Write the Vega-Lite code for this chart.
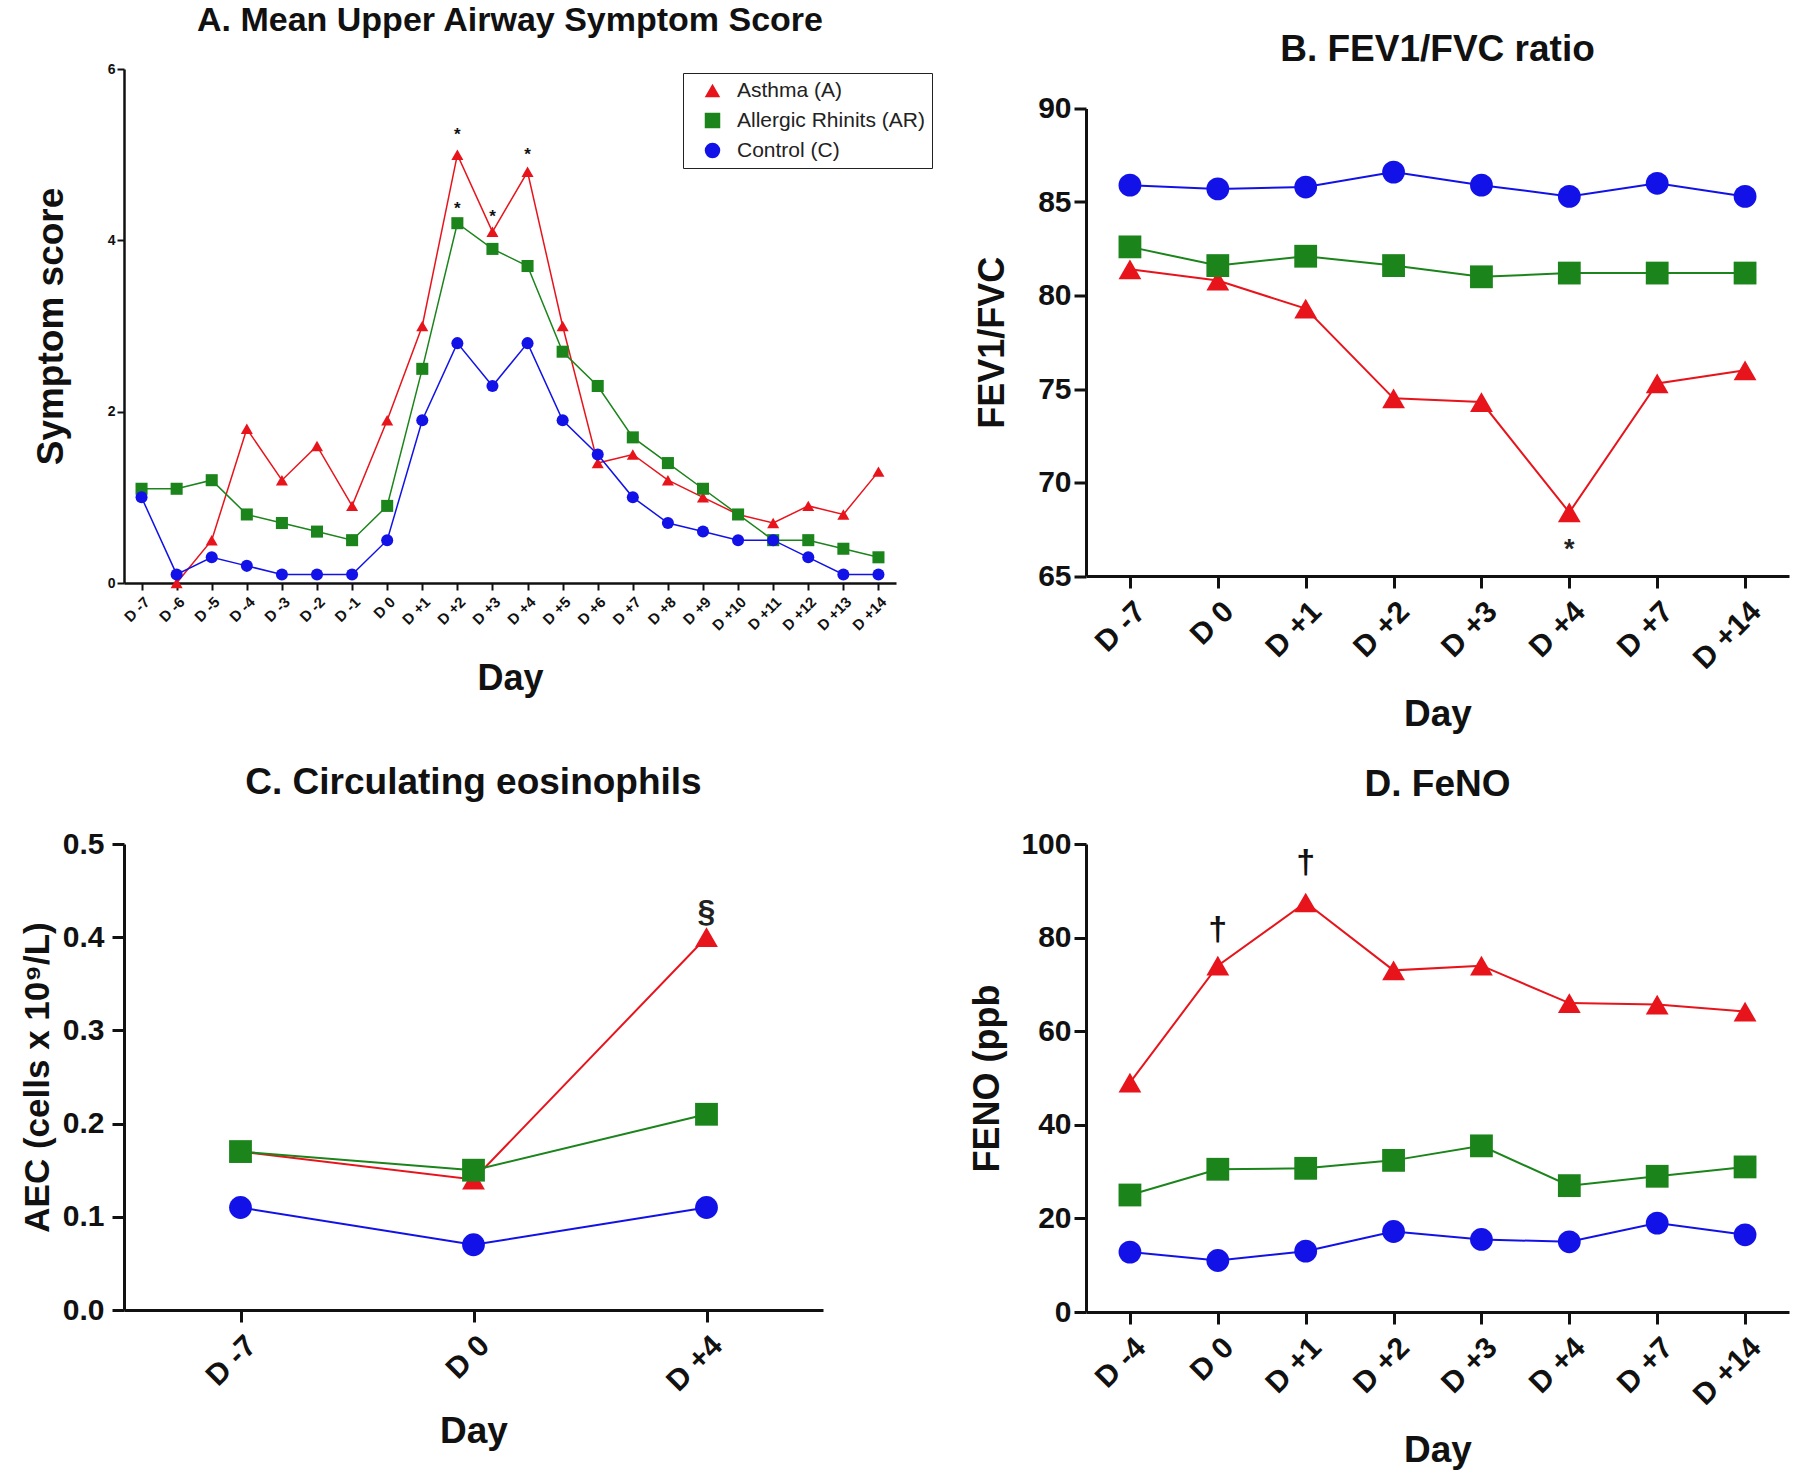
{
  "$schema": "https://vega.github.io/schema/vega-lite/v6.json",
  "background": "white",
  "padding": {"left": 20, "top": 4, "right": 5, "bottom": 5},
  "config": {
    "font": "Liberation Sans",
    "view": {"stroke": null},
    "axis": {"grid": false, "domainColor": "#111", "tickColor": "#111", "labelColor": "#111", "titleColor": "#111", "labelFontWeight": "bold", "titleFontWeight": "bold", "labelFont": "Liberation Sans", "titleFont": "Liberation Sans", "labelOverlap": false},
    "title": {"font": "Liberation Sans", "fontWeight": "bold", "color": "#111", "anchor": "middle"},
    "legend": {"labelFont": "Liberation Sans"}
  },
  "datasets": {
    "A": [
      {"group": "Asthma (A)", "day": "D -6", "n": -6, "value": 0},
      {"group": "Asthma (A)", "day": "D -5", "n": -5, "value": 0.5},
      {"group": "Asthma (A)", "day": "D -4", "n": -4, "value": 1.8},
      {"group": "Asthma (A)", "day": "D -3", "n": -3, "value": 1.2},
      {"group": "Asthma (A)", "day": "D -2", "n": -2, "value": 1.6},
      {"group": "Asthma (A)", "day": "D -1", "n": -1, "value": 0.9},
      {"group": "Asthma (A)", "day": "D 0", "n": 0, "value": 1.9},
      {"group": "Asthma (A)", "day": "D +1", "n": 1, "value": 3.0},
      {"group": "Asthma (A)", "day": "D +2", "n": 2, "value": 5.0},
      {"group": "Asthma (A)", "day": "D +3", "n": 3, "value": 4.1},
      {"group": "Asthma (A)", "day": "D +4", "n": 4, "value": 4.8},
      {"group": "Asthma (A)", "day": "D +5", "n": 5, "value": 3.0},
      {"group": "Asthma (A)", "day": "D +6", "n": 6, "value": 1.4},
      {"group": "Asthma (A)", "day": "D +7", "n": 7, "value": 1.5},
      {"group": "Asthma (A)", "day": "D +8", "n": 8, "value": 1.2},
      {"group": "Asthma (A)", "day": "D +9", "n": 9, "value": 1.0},
      {"group": "Asthma (A)", "day": "D +10", "n": 10, "value": 0.8},
      {"group": "Asthma (A)", "day": "D +11", "n": 11, "value": 0.7},
      {"group": "Asthma (A)", "day": "D +12", "n": 12, "value": 0.9},
      {"group": "Asthma (A)", "day": "D +13", "n": 13, "value": 0.8},
      {"group": "Asthma (A)", "day": "D +14", "n": 14, "value": 1.3},
      {"group": "Allergic Rhinits (AR)", "day": "D -7", "n": -7, "value": 1.1},
      {"group": "Allergic Rhinits (AR)", "day": "D -6", "n": -6, "value": 1.1},
      {"group": "Allergic Rhinits (AR)", "day": "D -5", "n": -5, "value": 1.2},
      {"group": "Allergic Rhinits (AR)", "day": "D -4", "n": -4, "value": 0.8},
      {"group": "Allergic Rhinits (AR)", "day": "D -3", "n": -3, "value": 0.7},
      {"group": "Allergic Rhinits (AR)", "day": "D -2", "n": -2, "value": 0.6},
      {"group": "Allergic Rhinits (AR)", "day": "D -1", "n": -1, "value": 0.5},
      {"group": "Allergic Rhinits (AR)", "day": "D 0", "n": 0, "value": 0.9},
      {"group": "Allergic Rhinits (AR)", "day": "D +1", "n": 1, "value": 2.5},
      {"group": "Allergic Rhinits (AR)", "day": "D +2", "n": 2, "value": 4.2},
      {"group": "Allergic Rhinits (AR)", "day": "D +3", "n": 3, "value": 3.9},
      {"group": "Allergic Rhinits (AR)", "day": "D +4", "n": 4, "value": 3.7},
      {"group": "Allergic Rhinits (AR)", "day": "D +5", "n": 5, "value": 2.7},
      {"group": "Allergic Rhinits (AR)", "day": "D +6", "n": 6, "value": 2.3},
      {"group": "Allergic Rhinits (AR)", "day": "D +7", "n": 7, "value": 1.7},
      {"group": "Allergic Rhinits (AR)", "day": "D +8", "n": 8, "value": 1.4},
      {"group": "Allergic Rhinits (AR)", "day": "D +9", "n": 9, "value": 1.1},
      {"group": "Allergic Rhinits (AR)", "day": "D +10", "n": 10, "value": 0.8},
      {"group": "Allergic Rhinits (AR)", "day": "D +11", "n": 11, "value": 0.5},
      {"group": "Allergic Rhinits (AR)", "day": "D +12", "n": 12, "value": 0.5},
      {"group": "Allergic Rhinits (AR)", "day": "D +13", "n": 13, "value": 0.4},
      {"group": "Allergic Rhinits (AR)", "day": "D +14", "n": 14, "value": 0.3},
      {"group": "Control (C)", "day": "D -7", "n": -7, "value": 1.0},
      {"group": "Control (C)", "day": "D -6", "n": -6, "value": 0.1},
      {"group": "Control (C)", "day": "D -5", "n": -5, "value": 0.3},
      {"group": "Control (C)", "day": "D -4", "n": -4, "value": 0.2},
      {"group": "Control (C)", "day": "D -3", "n": -3, "value": 0.1},
      {"group": "Control (C)", "day": "D -2", "n": -2, "value": 0.1},
      {"group": "Control (C)", "day": "D -1", "n": -1, "value": 0.1},
      {"group": "Control (C)", "day": "D 0", "n": 0, "value": 0.5},
      {"group": "Control (C)", "day": "D +1", "n": 1, "value": 1.9},
      {"group": "Control (C)", "day": "D +2", "n": 2, "value": 2.8},
      {"group": "Control (C)", "day": "D +3", "n": 3, "value": 2.3},
      {"group": "Control (C)", "day": "D +4", "n": 4, "value": 2.8},
      {"group": "Control (C)", "day": "D +5", "n": 5, "value": 1.9},
      {"group": "Control (C)", "day": "D +6", "n": 6, "value": 1.5},
      {"group": "Control (C)", "day": "D +7", "n": 7, "value": 1.0},
      {"group": "Control (C)", "day": "D +8", "n": 8, "value": 0.7},
      {"group": "Control (C)", "day": "D +9", "n": 9, "value": 0.6},
      {"group": "Control (C)", "day": "D +10", "n": 10, "value": 0.5},
      {"group": "Control (C)", "day": "D +11", "n": 11, "value": 0.5},
      {"group": "Control (C)", "day": "D +12", "n": 12, "value": 0.3},
      {"group": "Control (C)", "day": "D +13", "n": 13, "value": 0.1},
      {"group": "Control (C)", "day": "D +14", "n": 14, "value": 0.1}
    ],
    "B": [
      {"group": "Asthma (A)", "day": "D -7", "n": -7, "value": 81.4},
      {"group": "Asthma (A)", "day": "D 0", "n": 0, "value": 80.8},
      {"group": "Asthma (A)", "day": "D +1", "n": 1, "value": 79.3},
      {"group": "Asthma (A)", "day": "D +2", "n": 2, "value": 74.5},
      {"group": "Asthma (A)", "day": "D +3", "n": 3, "value": 74.3},
      {"group": "Asthma (A)", "day": "D +4", "n": 4, "value": 68.4},
      {"group": "Asthma (A)", "day": "D +7", "n": 7, "value": 75.3},
      {"group": "Asthma (A)", "day": "D +14", "n": 14, "value": 76.0},
      {"group": "Allergic Rhinits (AR)", "day": "D -7", "n": -7, "value": 82.6},
      {"group": "Allergic Rhinits (AR)", "day": "D 0", "n": 0, "value": 81.6},
      {"group": "Allergic Rhinits (AR)", "day": "D +1", "n": 1, "value": 82.1},
      {"group": "Allergic Rhinits (AR)", "day": "D +2", "n": 2, "value": 81.6},
      {"group": "Allergic Rhinits (AR)", "day": "D +3", "n": 3, "value": 81.0},
      {"group": "Allergic Rhinits (AR)", "day": "D +4", "n": 4, "value": 81.2},
      {"group": "Allergic Rhinits (AR)", "day": "D +7", "n": 7, "value": 81.2},
      {"group": "Allergic Rhinits (AR)", "day": "D +14", "n": 14, "value": 81.2},
      {"group": "Control (C)", "day": "D -7", "n": -7, "value": 85.9},
      {"group": "Control (C)", "day": "D 0", "n": 0, "value": 85.7},
      {"group": "Control (C)", "day": "D +1", "n": 1, "value": 85.8},
      {"group": "Control (C)", "day": "D +2", "n": 2, "value": 86.6},
      {"group": "Control (C)", "day": "D +3", "n": 3, "value": 85.9},
      {"group": "Control (C)", "day": "D +4", "n": 4, "value": 85.3},
      {"group": "Control (C)", "day": "D +7", "n": 7, "value": 86.0},
      {"group": "Control (C)", "day": "D +14", "n": 14, "value": 85.3}
    ],
    "C": [
      {"group": "Asthma (A)", "day": "D -7", "n": -7, "value": 0.17},
      {"group": "Asthma (A)", "day": "D 0", "n": 0, "value": 0.14},
      {"group": "Asthma (A)", "day": "D +4", "n": 4, "value": 0.40},
      {"group": "Allergic Rhinits (AR)", "day": "D -7", "n": -7, "value": 0.17},
      {"group": "Allergic Rhinits (AR)", "day": "D 0", "n": 0, "value": 0.15},
      {"group": "Allergic Rhinits (AR)", "day": "D +4", "n": 4, "value": 0.21},
      {"group": "Control (C)", "day": "D -7", "n": -7, "value": 0.11},
      {"group": "Control (C)", "day": "D 0", "n": 0, "value": 0.07},
      {"group": "Control (C)", "day": "D +4", "n": 4, "value": 0.11}
    ],
    "D": [
      {"group": "Asthma (A)", "day": "D -4", "n": -4, "value": 49},
      {"group": "Asthma (A)", "day": "D 0", "n": 0, "value": 74},
      {"group": "Asthma (A)", "day": "D +1", "n": 1, "value": 87.5},
      {"group": "Asthma (A)", "day": "D +2", "n": 2, "value": 73},
      {"group": "Asthma (A)", "day": "D +3", "n": 3, "value": 74},
      {"group": "Asthma (A)", "day": "D +4", "n": 4, "value": 66},
      {"group": "Asthma (A)", "day": "D +7", "n": 7, "value": 65.7},
      {"group": "Asthma (A)", "day": "D +14", "n": 14, "value": 64.2},
      {"group": "Allergic Rhinits (AR)", "day": "D -4", "n": -4, "value": 25},
      {"group": "Allergic Rhinits (AR)", "day": "D 0", "n": 0, "value": 30.5},
      {"group": "Allergic Rhinits (AR)", "day": "D +1", "n": 1, "value": 30.7},
      {"group": "Allergic Rhinits (AR)", "day": "D +2", "n": 2, "value": 32.4},
      {"group": "Allergic Rhinits (AR)", "day": "D +3", "n": 3, "value": 35.5},
      {"group": "Allergic Rhinits (AR)", "day": "D +4", "n": 4, "value": 27},
      {"group": "Allergic Rhinits (AR)", "day": "D +7", "n": 7, "value": 29},
      {"group": "Allergic Rhinits (AR)", "day": "D +14", "n": 14, "value": 31},
      {"group": "Control (C)", "day": "D -4", "n": -4, "value": 12.8},
      {"group": "Control (C)", "day": "D 0", "n": 0, "value": 11},
      {"group": "Control (C)", "day": "D +1", "n": 1, "value": 13},
      {"group": "Control (C)", "day": "D +2", "n": 2, "value": 17.2},
      {"group": "Control (C)", "day": "D +3", "n": 3, "value": 15.5},
      {"group": "Control (C)", "day": "D +4", "n": 4, "value": 15},
      {"group": "Control (C)", "day": "D +7", "n": 7, "value": 19},
      {"group": "Control (C)", "day": "D +14", "n": 14, "value": 16.5}
    ],
    "annot": [
      {"panel": "A", "day": "D +2", "value": 5.29, "label": "*"},
      {"panel": "A", "day": "D +2", "value": 4.42, "label": "*"},
      {"panel": "A", "day": "D +3", "value": 4.33, "label": "*"},
      {"panel": "A", "day": "D +4", "value": 5.06, "label": "*"},
      {"panel": "B", "day": "D +4", "value": 66.8, "label": "*"},
      {"panel": "C", "day": "D +4", "value": 0.424, "label": "§"},
      {"panel": "D", "day": "D 0", "value": 81.6, "label": "†"},
      {"panel": "D", "day": "D +1", "value": 95.9, "label": "†"}
    ]
  },
  "spacing": 36,
  "resolve": {"scale": {"color": "independent", "shape": "independent", "stroke": "independent"}, "legend": {"color": "independent", "shape": "independent"}},
  "hconcat": [
    {
      "bounds": "flush",
      "spacing": 261,
      "resolve": {"scale": {"color": "independent", "shape": "independent", "stroke": "independent"}, "legend": {"color": "independent", "shape": "independent"}},
      "vconcat": [
        {
          "width": 772,
          "height": 514,
          "title": {"text": "A. Mean Upper Airway Symptom Score", "fontSize": 34, "offset": 24},
          "data": {"name": "A"},
          "encoding": {
            "x": {"field": "day", "type": "ordinal", "title": "Day",
              "scale": {"type": "point", "padding": 0.5, "domain": ["D -7","D -6","D -5","D -4","D -3","D -2","D -1","D 0","D +1","D +2","D +3","D +4","D +5","D +6","D +7","D +8","D +9","D +10","D +11","D +12","D +13","D +14"]},
              "axis": {"labelAngle": -45, "labelFontSize": 15, "labelPadding": 4, "tickSize": 7, "tickWidth": 2, "domainWidth": 2.5, "titleFontSize": 36, "titlePadding": 28}},
            "y": {"field": "value", "type": "quantitative", "title": "Symptom score",
              "scale": {"domain": [0, 6], "nice": false, "zero": false},
              "axis": {"values": [0, 2, 4, 6], "format": "d", "labelFontSize": 14, "tickSize": 7, "tickWidth": 2, "domainWidth": 2.5, "titleFontSize": 37, "titlePadding": 37}}
          },
          "layer": [
            {
              "mark": {"type": "line", "strokeWidth": 1.5},
              "encoding": {
                "order": {"field": "n", "type": "quantitative"},
                "stroke": {"field": "group", "type": "nominal", "legend": null,
                  "scale": {"domain": ["Control (C)", "Allergic Rhinits (AR)", "Asthma (A)"], "range": ["#1212e8", "#1b841b", "#e8141c"]}}
              }
            },
            {
              "mark": {"type": "point", "filled": true, "opacity": 1, "size": 145},
              "encoding": {
                "color": {"field": "group", "type": "nominal", "title": null,
                  "scale": {"domain": ["Asthma (A)", "Allergic Rhinits (AR)", "Control (C)"], "range": ["#e8141c", "#1b841b", "#1212e8"]},
                  "legend": {"orient": "none", "legendX": 559, "legendY": 4, "strokeColor": "#222", "padding": 7, "symbolOffset": 12, "labelFontSize": 21, "labelLimit": 0, "labelFontWeight": "normal", "labelColor": "#222", "symbolSize": 240, "rowPadding": 8, "labelOffset": 14, "fillColor": "white",
                    "encode": {"legend": {"update": {"strokeWidth": {"value": 3}}}}}},
                "shape": {"field": "group", "type": "nominal", "title": null,
                  "scale": {"domain": ["Asthma (A)", "Allergic Rhinits (AR)", "Control (C)"], "range": ["triangle-up", "square", "circle"]},
                  "legend": {"orient": "none", "legendX": 559, "legendY": 4, "strokeColor": "#222", "padding": 7, "symbolOffset": 12, "labelFontSize": 21, "labelLimit": 0, "labelFontWeight": "normal", "labelColor": "#222", "symbolSize": 240, "rowPadding": 8, "labelOffset": 14, "fillColor": "white",
                    "encode": {"legend": {"update": {"strokeWidth": {"value": 3}}}}}}
              }
            },
            {
              "data": {"name": "annot"},
              "transform": [{"filter": "datum.panel == 'A'"}],
              "mark": {"type": "text", "fontSize": 17, "fontWeight": "bold", "color": "#111", "baseline": "alphabetic", "dy": 10},
              "encoding": {"text": {"field": "label"}}
            }
          ]
        },
        {
          "width": 699,
          "height": 466,
          "title": {"text": "C. Circulating eosinophils", "fontSize": 37, "offset": 27},
          "data": {"name": "C"},
          "encoding": {
            "x": {"field": "day", "type": "ordinal", "title": "Day",
              "scale": {"type": "point", "padding": 0.5, "domain": ["D -7", "D 0", "D +4"]},
              "axis": {"labelAngle": -45, "labelFontSize": 30, "labelPadding": 8, "tickSize": 12, "tickWidth": 3, "domainWidth": 3, "titleFontSize": 37, "titlePadding": 17}},
            "y": {"field": "value", "type": "quantitative", "title": "AEC (cells x 10⁹/L)",
              "scale": {"domain": [0, 0.5], "nice": false, "zero": false},
              "axis": {"values": [0, 0.1, 0.2, 0.3, 0.4, 0.5], "format": ".1f", "labelFontSize": 30, "labelPadding": 8, "tickSize": 12, "tickWidth": 3, "domainWidth": 3, "titleFontSize": 35, "titlePadding": 7}}
          },
          "layer": [
            {
              "mark": {"type": "line", "strokeWidth": 2},
              "encoding": {
                "order": {"field": "n", "type": "quantitative"},
                "stroke": {"field": "group", "type": "nominal", "legend": null,
                  "scale": {"domain": ["Control (C)", "Allergic Rhinits (AR)", "Asthma (A)"], "range": ["#1212e8", "#1b841b", "#e8141c"]}}
              }
            },
            {
              "mark": {"type": "point", "filled": true, "opacity": 1, "size": 520},
              "encoding": {
                "color": {"field": "group", "type": "nominal", "legend": null,
                  "scale": {"domain": ["Asthma (A)", "Allergic Rhinits (AR)", "Control (C)"], "range": ["#e8141c", "#1b841b", "#1212e8"]}},
                "shape": {"field": "group", "type": "nominal", "legend": null,
                  "scale": {"domain": ["Asthma (A)", "Allergic Rhinits (AR)", "Control (C)"], "range": ["triangle-up", "square", "circle"]}}
              }
            },
            {
              "data": {"name": "annot"},
              "transform": [{"filter": "datum.panel == 'C'"}],
              "mark": {"type": "text", "fontSize": 32, "fontWeight": "bold", "color": "#222", "baseline": "alphabetic", "dy": 7},
              "encoding": {"text": {"field": "label"}}
            }
          ]
        }
      ]
    },
    {
      "spacing": 33,
      "resolve": {"scale": {"color": "independent", "shape": "independent", "stroke": "independent"}, "legend": {"color": "independent", "shape": "independent"}},
      "vconcat": [
        {
          "bounds": "flush",
          "spacing": 38.5,
          "resolve": {"scale": {"color": "independent", "shape": "independent", "stroke": "independent"}, "legend": {"color": "independent", "shape": "independent"}},
          "vconcat": [
            {
              "width": 703,
              "height": 1,
              "data": {"values": [{"spacer": 0}]},
              "mark": {"type": "point", "opacity": 0}
            },
            {
              "width": 703,
              "height": 467.5,
              "title": {"text": "B. FEV1/FVC ratio", "fontSize": 37, "offset": 25},
              "data": {"name": "B"},
              "encoding": {
                "x": {"field": "day", "type": "ordinal", "title": "Day",
                  "scale": {"type": "point", "padding": 0.5, "domain": ["D -7", "D 0", "D +1", "D +2", "D +3", "D +4", "D +7", "D +14"]},
                  "axis": {"labelAngle": -45, "labelFontSize": 30, "labelPadding": 8, "tickSize": 12, "tickWidth": 3, "domainWidth": 3, "titleFontSize": 37, "titlePadding": 22}},
                "y": {"field": "value", "type": "quantitative", "title": "FEV1/FVC",
                  "scale": {"domain": [65, 90], "nice": false, "zero": false},
                  "axis": {"values": [65, 70, 75, 80, 85, 90], "labelFontSize": 30, "labelPadding": 3, "tickSize": 12, "tickWidth": 3, "domainWidth": 3, "titleFontSize": 36, "titlePadding": 26}}
              },
              "layer": [
                {
                  "mark": {"type": "line", "strokeWidth": 2},
                  "encoding": {
                    "order": {"field": "n", "type": "quantitative"},
                    "stroke": {"field": "group", "type": "nominal", "legend": null,
                      "scale": {"domain": ["Control (C)", "Allergic Rhinits (AR)", "Asthma (A)"], "range": ["#1212e8", "#1b841b", "#e8141c"]}}
                  }
                },
                {
                  "mark": {"type": "point", "filled": true, "opacity": 1, "size": 520},
                  "encoding": {
                    "color": {"field": "group", "type": "nominal", "legend": null,
                      "scale": {"domain": ["Asthma (A)", "Allergic Rhinits (AR)", "Control (C)"], "range": ["#e8141c", "#1b841b", "#1212e8"]}},
                    "shape": {"field": "group", "type": "nominal", "legend": null,
                      "scale": {"domain": ["Asthma (A)", "Allergic Rhinits (AR)", "Control (C)"], "range": ["triangle-up", "square", "circle"]}}
                  }
                },
                {
                  "data": {"name": "annot"},
                  "transform": [{"filter": "datum.panel == 'B'"}],
                  "mark": {"type": "text", "fontSize": 27, "fontWeight": "bold", "color": "#222", "baseline": "alphabetic", "dy": 16},
                  "encoding": {"text": {"field": "label"}}
                }
              ]
            }
          ]
        },
        {
          "width": 703,
          "height": 468,
          "title": {"text": "D. FeNO", "fontSize": 37, "offset": 25},
          "data": {"name": "D"},
          "encoding": {
            "x": {"field": "day", "type": "ordinal", "title": "Day",
              "scale": {"type": "point", "padding": 0.5, "domain": ["D -4", "D 0", "D +1", "D +2", "D +3", "D +4", "D +7", "D +14"]},
              "axis": {"labelAngle": -45, "labelFontSize": 30, "labelPadding": 8, "tickSize": 12, "tickWidth": 3, "domainWidth": 3, "titleFontSize": 37, "titlePadding": 22}},
            "y": {"field": "value", "type": "quantitative", "title": "FENO (ppb",
              "scale": {"domain": [0, 100], "nice": false, "zero": false},
              "axis": {"values": [0, 20, 40, 60, 80, 100], "labelFontSize": 30, "labelPadding": 3, "tickSize": 12, "tickWidth": 3, "domainWidth": 3, "titleFontSize": 36, "titlePadding": 14}}
          },
          "layer": [
            {
              "mark": {"type": "line", "strokeWidth": 2},
              "encoding": {
                "order": {"field": "n", "type": "quantitative"},
                "stroke": {"field": "group", "type": "nominal", "legend": null,
                  "scale": {"domain": ["Control (C)", "Allergic Rhinits (AR)", "Asthma (A)"], "range": ["#1212e8", "#1b841b", "#e8141c"]}}
              }
            },
            {
              "mark": {"type": "point", "filled": true, "opacity": 1, "size": 520},
              "encoding": {
                "color": {"field": "group", "type": "nominal", "legend": null,
                  "scale": {"domain": ["Asthma (A)", "Allergic Rhinits (AR)", "Control (C)"], "range": ["#e8141c", "#1b841b", "#1212e8"]}},
                "shape": {"field": "group", "type": "nominal", "legend": null,
                  "scale": {"domain": ["Asthma (A)", "Allergic Rhinits (AR)", "Control (C)"], "range": ["triangle-up", "square", "circle"]}}
              }
            },
            {
              "data": {"name": "annot"},
              "transform": [{"filter": "datum.panel == 'D'"}],
              "mark": {"type": "text", "fontSize": 34, "fontWeight": "bold", "color": "#111", "baseline": "alphabetic", "dy": 10},
              "encoding": {"text": {"field": "label"}}
            }
          ]
        }
      ]
    }
  ]
}
